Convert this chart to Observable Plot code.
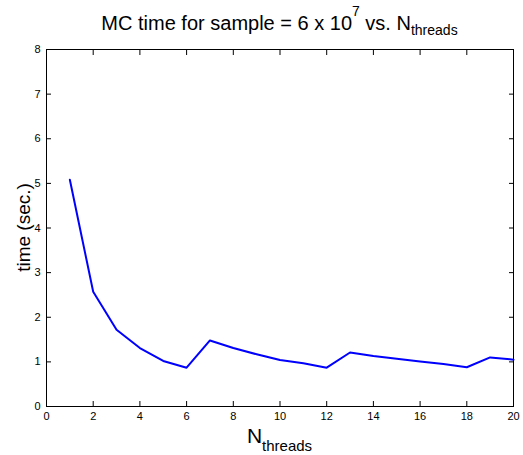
<!DOCTYPE html>
<html>
<head>
<meta charset="utf-8">
<script src="https://cdn.jsdelivr.net/npm/d3@7"></script>
<script src="https://cdn.jsdelivr.net/npm/@observablehq/plot@0.6"></script>
<style>
  html, body { margin: 0; padding: 0; background: #fff; }
  #chart svg { display: block; }
</style>
</head>
<body>
<div id="chart"></div>
<script>
// Data
const threads = [1, 2, 3, 4, 5, 6, 7, 8, 9, 10, 11, 12, 13, 14, 15, 16, 17, 18, 19, 20];
const times = [5.08, 2.57, 1.72, 1.31, 1.02, 0.87, 1.48, 1.31, 1.17, 1.04, 0.97, 0.87, 1.21, 1.13, 1.07, 1.01, 0.95, 0.88, 1.10, 1.05];
const xTicks = [0, 2, 4, 6, 8, 10, 12, 14, 16, 18, 20];
const yTicks = [0, 1, 2, 3, 4, 5, 6, 7, 8];

const data = threads.map((t, i) => ({threads: t, time: times[i]}));

const W = 523, H = 455;
const mL = 46, mR = 10, mT = 49, mB = 49;
const font = "Liberation Sans, Arial, Helvetica, sans-serif";

const chart = Plot.plot({
  width: W,
  height: H,
  marginLeft: mL,
  marginRight: mR,
  marginTop: mT,
  marginBottom: mB,
  style: {fontFamily: font, fontSize: "11px", color: "#000", background: "#fff"},
  x: {domain: [0, 20], label: null},
  y: {domain: [0, 8], label: null},
  marks: [
    Plot.line(data, {x: "threads", y: "time", stroke: "#0000ff", strokeWidth: 2}),
    Plot.frame({stroke: "#000", strokeWidth: 1}),
    Plot.axisX(xTicks, {anchor: "bottom", tickSize: -5, tickPadding: 11, label: null}),
    Plot.axisX(xTicks, {anchor: "top", tickSize: -5, tickFormat: () => "", label: null}),
    Plot.axisY(yTicks, {anchor: "left", tickSize: -5, tickPadding: 11, label: null}),
    Plot.axisY(yTicks, {anchor: "right", tickSize: -5, tickFormat: () => "", label: null})
  ]
});

document.getElementById("chart").appendChild(chart);

const svg = d3.select(chart);
const cx = (mL + (W - mR)) / 2;

// Title with superscript and subscript
const title = svg.append("text")
  .attr("x", cx).attr("y", 30)
  .attr("text-anchor", "middle")
  .attr("font-family", font)
  .attr("font-size", 20)
  .attr("fill", "#000");
title.append("tspan").text("MC time for sample = 6 x 10");
title.append("tspan").attr("font-size", 14).attr("dy", -14).text("7");
title.append("tspan").attr("dy", 14).text(" vs. N");
title.append("tspan").attr("font-size", 14).attr("dy", 5).text("threads");

// X label N_threads
const xl = svg.append("text")
  .attr("x", cx).attr("y", 443)
  .attr("text-anchor", "middle")
  .attr("font-family", font)
  .attr("font-size", 21)
  .attr("fill", "#000");
xl.append("tspan").text("N");
xl.append("tspan").attr("font-size", 15).attr("dy", 8).text("threads");

// Y label
svg.append("text")
  .attr("transform", `translate(30, ${(mT + (H - mB)) / 2}) rotate(-90)`)
  .attr("text-anchor", "middle")
  .attr("font-family", font)
  .attr("font-size", 19)
  .attr("fill", "#000")
  .text("time (sec.)");
</script>
</body>
</html>
